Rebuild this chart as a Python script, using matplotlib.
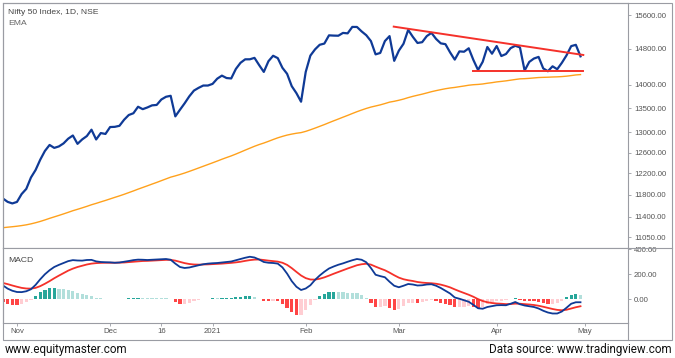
import matplotlib
matplotlib.use("Agg")
import matplotlib.pyplot as plt
from matplotlib.patches import Rectangle
from matplotlib.lines import Line2D
from matplotlib.ticker import NullLocator

# Nifty 50, daily closes (28 Oct 2020 -> 30 Apr 2021, trading days only)
close = [11730, 11670, 11642, 11669, 11813, 11908, 12120, 12263, 12461, 12631,
         12749, 12691, 12720, 12780, 12874, 12938, 12771, 12859, 12926, 13055,
         12858, 12987, 12969, 13109, 13113, 13134, 13258, 13356, 13393, 13529,
         13478, 13514, 13558, 13567, 13682, 13740, 13761, 13328, 13466, 13601,
         13749, 13873, 13932, 13982, 13982, 14018, 14132, 14199, 14146, 14137,
         14347, 14485, 14563, 14564, 14596, 14433, 14281, 14521, 14644, 14590,
         14372, 14239, 13968, 13818, 13635, 14281, 14648, 14790, 14896, 14924,
         15116, 15110, 15107, 15173, 15163, 15315, 15314, 15209, 15119, 14982,
         14676, 14708, 14982, 15098, 14529, 14761, 14920, 15245, 15081, 14938,
         14956, 15099, 15174, 15031, 14929, 14910, 14721, 14557, 14744, 14736,
         14815, 14549, 14324, 14507, 14845, 14691, 14867, 14638, 14684, 14819,
         14873, 14835, 14311, 14505, 14581, 14618, 14359, 14296, 14406, 14341,
         14485, 14653, 14865, 14895, 14631]

# EMA (orange line)
ema = [11211, 11220, 11228, 11237, 11248, 11261, 11278, 11298, 11321, 11347,
       11375, 11401, 11427, 11454, 11482, 11511, 11536, 11562, 11589, 11618,
       11643, 11670, 11696, 11724, 11752, 11779, 11808, 11839, 11870, 11903,
       11934, 11965, 11997, 12028, 12061, 12094, 12127, 12151, 12177, 12205,
       12236, 12268, 12301, 12334, 12367, 12400, 12434, 12469, 12502, 12534,
       12570, 12608, 12647, 12685, 12723, 12757, 12787, 12821, 12857, 12891,
       12920, 12946, 12966, 12983, 12996, 13021, 13053, 13087, 13123, 13159,
       13198, 13236, 13273, 13311, 13348, 13387, 13425, 13460, 13493, 13522,
       13545, 13568, 13596, 13626, 13644, 13666, 13691, 13722, 13749, 13773,
       13796, 13822, 13849, 13872, 13893, 13913, 13929, 13941, 13957, 13972,
       13989, 14000, 14006, 14016, 14032, 14045, 14061, 14072, 14084, 14099,
       14114, 14128, 14132, 14139, 14148, 14157, 14161, 14164, 14169, 14172,
       14178, 14187, 14200, 14214, 14222]

# MACD line, signal line and histogram
macd = [110, 85, 68, 58, 57, 64, 80, 115, 160, 200,
        232, 258, 275, 290, 305, 313, 310, 309, 314, 315,
        303, 298, 296, 295, 292, 294, 300, 306, 313, 317,
        316, 314, 316, 318, 320, 322, 316, 285, 258, 250,
        254, 263, 272, 280, 285, 288, 290, 294, 298, 302,
        312, 322, 332, 340, 334, 318, 298, 292, 290, 285,
        255, 205, 145, 100, 74, 86, 112, 155, 190, 220,
        246, 262, 276, 287, 300, 312, 322, 316, 296, 250,
        196, 185, 176, 140, 108, 96, 108, 122, 118, 110,
        112, 118, 120, 108, 90, 68, 46, 14, 4, -8,
        -20, -45, -72, -76, -62, -55, -48, -47, -48, -36,
        -22, -40, -50, -56, -62, -74, -92, -106, -114, -114,
        -98, -68, -36, -24, -24]

signal = [130, 121, 110, 100, 91, 86, 85, 91, 105, 124,
          145, 168, 189, 209, 229, 245, 258, 268, 278, 285,
          289, 291, 292, 292, 292, 293, 294, 297, 300, 303,
          306, 307, 309, 311, 313, 315, 315, 309, 299, 289,
          282, 278, 277, 278, 279, 281, 283, 285, 288, 291,
          295, 300, 307, 313, 317, 318, 314, 309, 305, 301,
          292, 275, 249, 219, 190, 169, 158, 157, 164, 175,
          189, 204, 218, 232, 246, 259, 272, 280, 284, 277,
          261, 246, 232, 213, 192, 173, 160, 152, 146, 138,
          133, 130, 128, 124, 117, 107, 95, 79, 64, 50,
          36, 20, 1, -14, -24, -30, -34, -36, -39, -38,
          -35, -36, -39, -42, -46, -52, -60, -69, -78, -85,
          -88, -84, -74, -64, -56]

hist = [-20, -36, -42, -42, -34, -22, -5, 24, 55, 76,
        87, 90, 86, 81, 76, 68, 52, 41, 36, 30,
        14, 7, 4, 3, 0, 1, 6, 9, 13, 14,
        10, 7, 7, 7, 7, 7, 1, -24, -41, -39,
        -28, -15, -5, 2, 6, 7, 7, 9, 10, 11,
        17, 22, 25, 27, 17, 0, -16, -17, -15, -16,
        -37, -70, -104, -125, -122, -83, -46, -2, 26, 45,
        57, 58, 58, 55, 54, 53, 50, 36, 12, -27,
        -65, -61, -56, -73, -84, -77, -52, -30, -28, -28,
        -21, -12, -8, -16, -27, -39, -49, -65, -60, -58,
        -56, -65, -73, -62, -38, -25, -14, -11, -9, 2,
        13, -4, -11, -14, -16, -22, -32, -37, -36, -29,
        -10, 16, 38, 40, 32]

# triangle drawn on the chart (bar index, price)
resist_x = [83.9, 124.6]
resist_y = [15322, 14662]
support_x = [100.9, 124.6]
support_y = [14309, 14309]

price_ticks = [15600, 14800, 14000, 13500, 13000, 12600, 12200, 11800, 11400, 11050]
macd_ticks = [400, 200, 0]
date_pos = [3, 23, 34, 45, 65, 85, 106, 125]
date_labels = ['Nov', 'Dec', '16', '2021', 'Feb', 'Mar', 'Apr', 'May']

x = list(range(len(close)))

W, H = 675, 358
GREY = '#9a9ca3'
TXT = '#555555'
BLUE = '#0f3a96'
RED = '#f5312a'

plt.rcParams['font.family'] = ['Liberation Sans', 'DejaVu Sans']

fig = plt.figure(figsize=(W / 100, H / 100), dpi=100)


def fx(px):
    return px / W


def fy(py):
    return 1 - py / H


ax1 = fig.add_axes([fx(3), fy(248), fx(628) - fx(3), fy(3) - fy(248)])
ax2 = fig.add_axes([fx(3), fy(323), fx(628) - fx(3), fy(248) - fy(323)], sharex=ax1)

# --- price panel
ax1.plot(x, ema, color='#ffa11c', lw=1.0)
ax1.plot(x, close, color=BLUE, lw=1.6, solid_joinstyle='round')
ax1.plot(resist_x, resist_y, color=RED, lw=1.4)
ax1.plot(support_x, support_y, color=RED, lw=1.4)
ax1.set_yscale('log')
ax1.set_ylim(10863, 15895)
ax1.set_xlim(0, 134.2)
ax1.yaxis.set_minor_locator(NullLocator())
ax1.set_yticks(price_ticks)
ax1.set_yticklabels([f'{t:.2f}' for t in price_ticks])
ax1.yaxis.tick_right()
ax1.tick_params(axis='y', length=2.2, width=0.6, color=GREY, pad=2.2,
                labelsize=5.6, labelcolor=TXT)
ax1.tick_params(axis='x', bottom=False, labelbottom=False)

# --- MACD panel
hist_colors = []
for i, h in enumerate(hist):
    prev = hist[i - 1] if i > 0 else h
    if h >= 0:
        hist_colors.append('#26a69a' if h > prev else '#b2dfdb')
    else:
        hist_colors.append('#ffcdd2' if h > prev else '#ff4545')
ax2.bar(x, hist, width=0.7, color=hist_colors, linewidth=0)
ax2.plot(x, signal, color=RED, lw=1.3)
ax2.plot(x, macd, color=BLUE, lw=1.3)
ax2.set_ylim(-190, 410)
ax2.set_yticks(macd_ticks)
ax2.set_yticklabels([f'{t:.2f}' for t in macd_ticks])
ax2.yaxis.tick_right()
ax2.tick_params(axis='y', length=2.2, width=0.6, color=GREY, pad=2.2,
                labelsize=5.6, labelcolor=TXT)
ax2.set_xticks(date_pos)
ax2.set_xticklabels(date_labels)
ax2.tick_params(axis='x', length=2.2, width=0.6, color=GREY, pad=1.5,
                labelsize=5.6, labelcolor=TXT)

for ax in (ax1, ax2):
    for s in ax.spines.values():
        s.set_color(GREY)
        s.set_linewidth(0.8)

# outer frame and separators
fig.add_artist(Rectangle((fx(2.5), fy(340)), fx(672) - fx(2.5), fy(2.5) - fy(340),
                         transform=fig.transFigure, fill=False, edgecolor=GREY, lw=0.8))
fig.add_artist(Line2D([fx(628), fx(672)], [fy(248), fy(248)],
                      transform=fig.transFigure, color=GREY, lw=0.8))
fig.add_artist(Line2D([fx(628), fx(628)], [fy(323), fy(340)],
                      transform=fig.transFigure, color=GREY, lw=0.8))

# labels inside panels
fig.text(fx(8), fy(12.5), 'Nifty 50 Index, 1D, NSE', fontsize=6.1, color='#444444', va='center')
fig.text(fx(8), fy(23.5), 'EMA', fontsize=6.1, color='#666666', va='center')
fig.text(fx(8), fy(260), 'MACD', fontsize=6.1, color='#444444', va='center')

# footer
fig.text(fx(5), fy(350), 'www.equitymaster.com', fontsize=8.4, family='Roboto',
         color='#111111', va='center')
fig.text(fx(672), fy(350), 'Data source: www.tradingview.com', fontsize=8.4, family='Roboto',
         color='#111111', va='center', ha='right')

fig.savefig('out.png', dpi=100)
